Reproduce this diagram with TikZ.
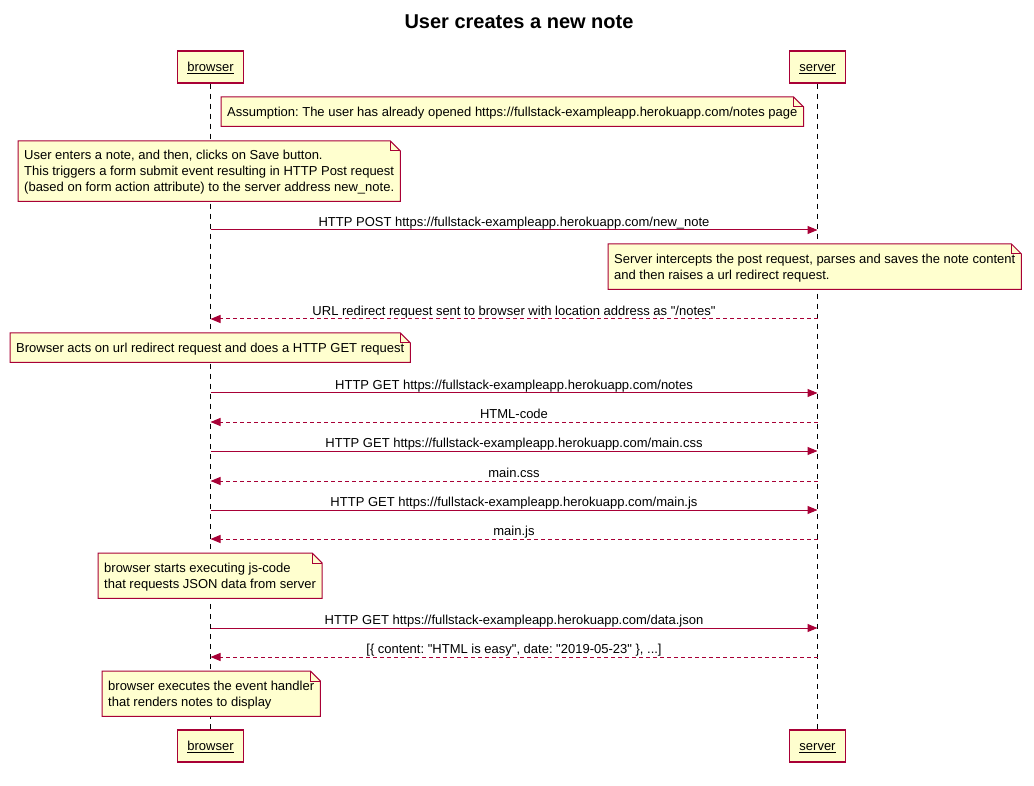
\documentclass[tikz,border=0pt]{standalone}
\usepackage{fontspec}
\setmainfont{Liberation Sans}
\usetikzlibrary{arrows.meta,backgrounds}
\definecolor{umlred}{HTML}{A80036}
\definecolor{umlbg}{HTML}{FEFECE}
\definecolor{notebg}{HTML}{FFFFCF}
\frenchspacing
\tikzset{
  lifebox/.style={draw=umlred, fill=umlbg, line width=1.5pt, minimum height=32pt, inner xsep=10pt,
    text height=9.5pt, text depth=1pt, font=\fontsize{13}{15}\selectfont},
  lifeline/.style={dash pattern=on 5pt off 5pt, line width=0.8pt},
  notebox/.style={anchor=north west, align=left, inner xsep=6pt, inner ysep=0pt,
    text depth=-4pt, font=\fontsize{13}{16}\selectfont},
  noteline/.style={draw=umlred, fill=notebg, line width=1pt},
  req/.style={draw=umlred, line width=1pt, -{Triangle[length=10pt,width=8pt]}},
  resp/.style={req, dash pattern=on 4pt off 3pt},
  msglabel/.style={midway, above, inner sep=0pt, text depth=3pt, font=\fontsize{13}{15}\selectfont}
}
\begin{document}
\begin{tikzpicture}[x=1pt, y=-1pt]
  \useasboundingbox (0,0) rectangle (1034,786);

  \node[font=\fontsize{20}{24}\selectfont\bfseries] (title) at (519,22) {User creates a new note};

  \node[lifebox] (btop) at (210.5,67) {\underline{browser}};
  \node[lifebox] (stop) at (817.5,67) {\underline{server}};
  \node[lifebox] (bbot) at (210.5,746) {\underline{browser}};
  \node[lifebox] (sbot) at (817.5,746) {\underline{server}};

  % notes
  \node[notebox, minimum height=29pt] (n1) at (221,97)
    {Assumption: The user has already opened https://fullstack-exampleapp.herokuapp.com/notes page};
  \node[notebox, minimum height=60pt] (n2) at (18,141)
    {User enters a note, and then, clicks on Save button.\\
     This triggers a form submit event resulting in HTTP Post request\\
     (based on form action attribute) to the server address new\_note.};
  \node[notebox, minimum height=45pt] (n3) at (608,244)
    {Server intercepts the post request, parses and saves the note content\\
     and then raises a url redirect request.};
  \node[notebox, minimum height=29pt] (n4) at (10,333)
    {Browser acts on url redirect request and does a HTTP GET request};
  \node[notebox, minimum height=45pt] (n5) at (98,553)
    {browser starts executing js-code\\that requests JSON data from server};
  \node[notebox, minimum height=45pt] (n6) at (102,671)
    {browser executes the event handler\\that renders notes to display};

  \begin{scope}[on background layer]
    \draw[lifeline] (btop) -- (bbot);
    \draw[lifeline] (stop) -- (sbot);
    \foreach \n in {n1,n2,n3,n4,n5,n6} {
      \draw[noteline] (\n.north west) -- ([xshift=-10pt]\n.north east)
        -- ([yshift=-10pt]\n.north east) -- (\n.south east) -- (\n.south west) -- cycle;
      \draw[noteline, fill=none] ([xshift=-10pt]\n.north east) |- ([yshift=-10pt]\n.north east);
    }
  \end{scope}

  % message ends on the lifelines
  \foreach \i/\y in {1/230,2/319,3/393,4/422,5/451,6/481,7/510,8/539,9/628,10/657} {
    \coordinate (b\i) at (210.5,\y);
    \coordinate (s\i) at (817.5,\y);
  }

  \draw[req] (b1) -- (s1) node[msglabel] {HTTP POST https://fullstack-exampleapp.herokuapp.com/new\_note};
  \draw[resp] (s2) -- (b2) node[msglabel] {URL redirect request sent to browser with location address as \textquotedbl/notes\textquotedbl};
  \draw[req] (b3) -- (s3) node[msglabel] {HTTP GET https://fullstack-exampleapp.herokuapp.com/notes};
  \draw[resp] (s4) -- (b4) node[msglabel] {HTML-code};
  \draw[req] (b5) -- (s5) node[msglabel] {HTTP GET https://fullstack-exampleapp.herokuapp.com/main.css};
  \draw[resp] (s6) -- (b6) node[msglabel] {main.css};
  \draw[req] (b7) -- (s7) node[msglabel] {HTTP GET https://fullstack-exampleapp.herokuapp.com/main.js};
  \draw[resp] (s8) -- (b8) node[msglabel] {main.js};
  \draw[req] (b9) -- (s9) node[msglabel] {HTTP GET https://fullstack-exampleapp.herokuapp.com/data.json};
  \draw[resp] (s10) -- (b10) node[msglabel] {[\{ content: \textquotedbl HTML is easy\textquotedbl, date: \textquotedbl 2019-05-23\textquotedbl\ \}, ...]};
\end{tikzpicture}
\end{document}
